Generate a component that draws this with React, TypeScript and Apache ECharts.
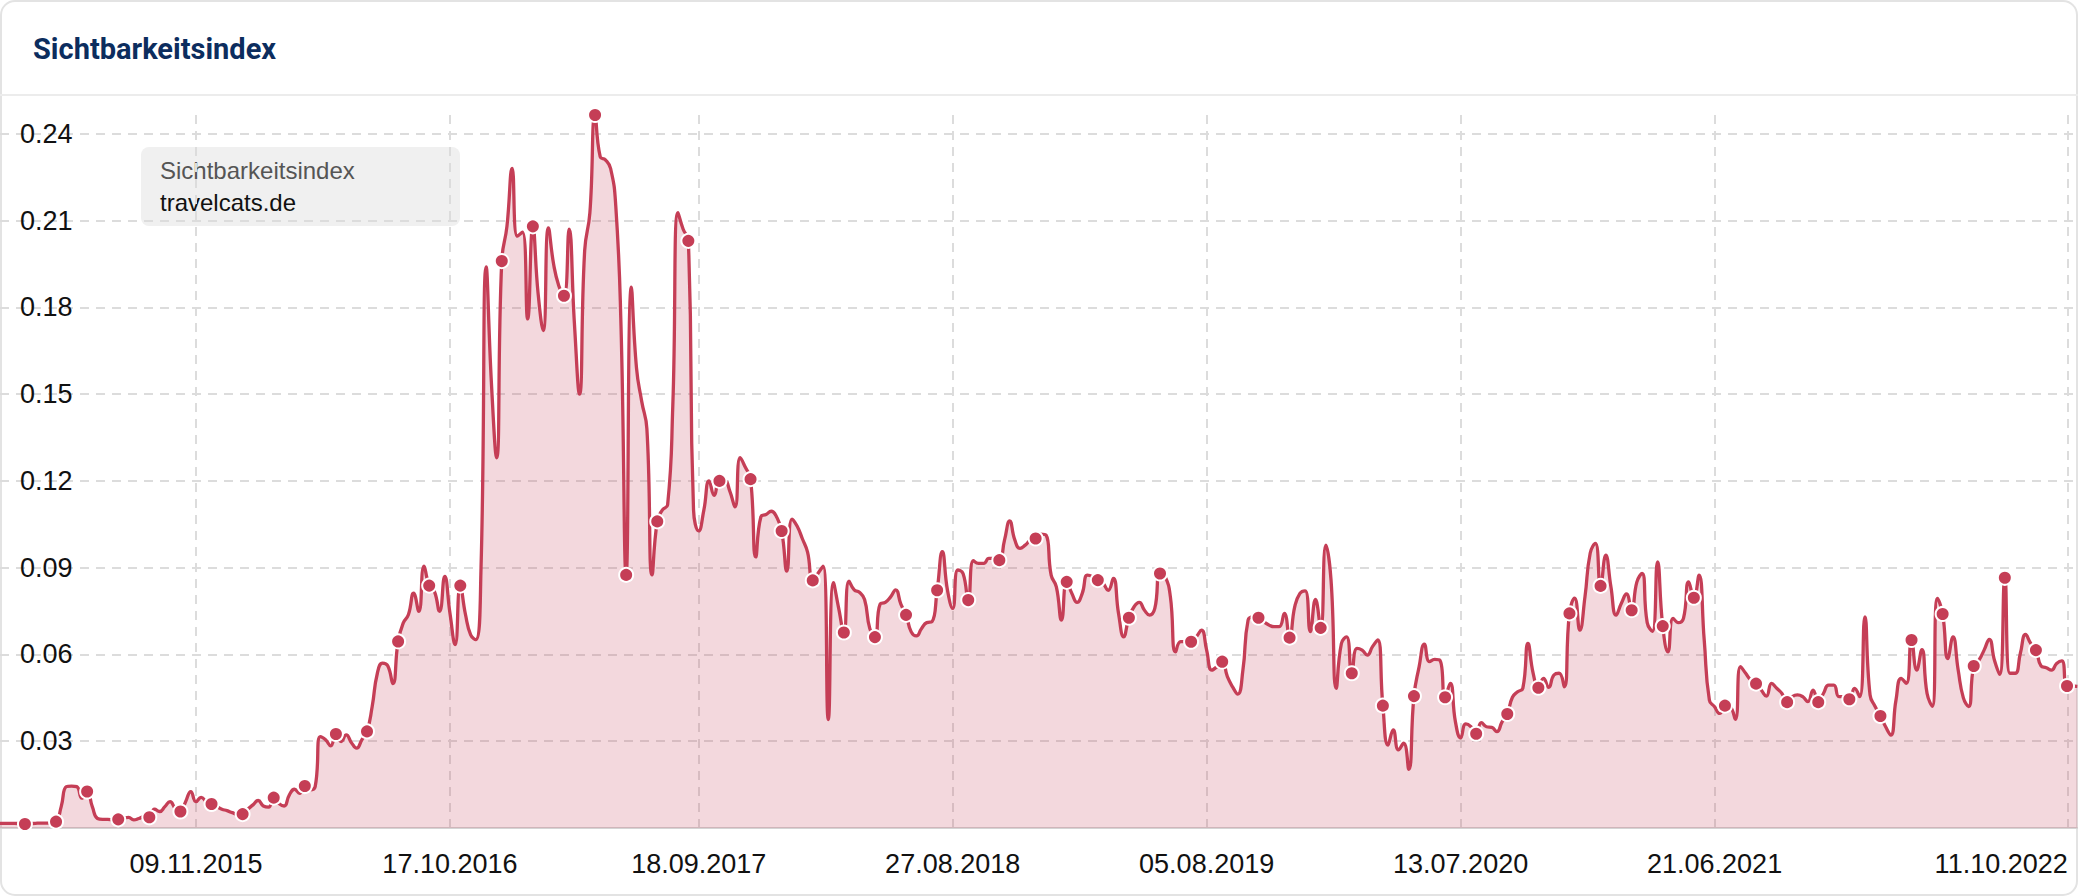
import React, { useEffect, useRef } from 'react';
import * as echarts from 'echarts';

// ---------- data ----------
const TITLE = 'Sichtbarkeitsindex';
const LEGEND_LABEL = 'Sichtbarkeitsindex';
const DOMAIN = 'travelcats.de';

// weekly values (Mondays), first week = 16.02.2015
const FIRST_WEEK = '2015-02-16';
const values: number[] = [
  0.0016, 0.0016, 0.0016, 0.0016, 0.0015, 0.0014, 0.0015, 0.0016, 0.0017, 0.0017,
  0.0018, 0.0022, 0.0074, 0.0143, 0.0145, 0.0143, 0.0103, 0.0126, 0.0074, 0.0033,
  0.003, 0.003, 0.0028, 0.003, 0.0033, 0.0037, 0.0028, 0.0033, 0.0039, 0.0037,
  0.0065, 0.0057, 0.0074, 0.0091, 0.0068, 0.0057, 0.0091, 0.0126, 0.0091, 0.0106,
  0.0091, 0.0083, 0.0074, 0.0065, 0.006, 0.0053, 0.0048, 0.0048, 0.0065, 0.008,
  0.0095, 0.0076, 0.0072, 0.0105, 0.0085, 0.0076, 0.0114, 0.0134, 0.012, 0.0145,
  0.0132, 0.0143, 0.0316, 0.0305, 0.0284, 0.0325, 0.0299, 0.0322, 0.0295, 0.0276,
  0.0305, 0.0334, 0.042, 0.0535, 0.057, 0.0561, 0.0499, 0.0645, 0.0709, 0.0738,
  0.0812, 0.0749, 0.0905, 0.0838, 0.0818, 0.0749, 0.087, 0.0743, 0.0634, 0.0838,
  0.0738, 0.0668, 0.0651, 0.09, 0.194, 0.154, 0.128, 0.196, 0.208, 0.228,
  0.2046, 0.206, 0.176, 0.208, 0.185, 0.172, 0.2075, 0.195, 0.1875, 0.184,
  0.207, 0.175, 0.15, 0.1997, 0.2127, 0.2465, 0.232, 0.231, 0.228, 0.215,
  0.174, 0.0875, 0.187, 0.159, 0.1475, 0.138, 0.0875, 0.106, 0.11, 0.1117,
  0.146, 0.2127, 0.207, 0.203, 0.11, 0.1027, 0.11, 0.12, 0.115, 0.12,
  0.12, 0.1165, 0.111, 0.128, 0.1247, 0.1206, 0.0937, 0.1076, 0.1084, 0.1095,
  0.1076, 0.1027, 0.0888, 0.1068, 0.1043, 0.1, 0.0954, 0.0856, 0.088, 0.0905,
  0.0375, 0.0848, 0.076, 0.0676, 0.0853, 0.0823, 0.0815, 0.079, 0.069, 0.066,
  0.0774, 0.078, 0.0798, 0.0823, 0.0774, 0.0737, 0.0678, 0.0664, 0.069, 0.071,
  0.0713, 0.0822, 0.0955, 0.0822, 0.0759, 0.0892, 0.088, 0.0788, 0.0924, 0.0915,
  0.0915, 0.0932, 0.0932, 0.0926, 0.0995, 0.1062, 0.0995, 0.0967, 0.0978, 0.0995,
  0.1001, 0.1016, 0.1013, 0.0874, 0.0834, 0.0719, 0.0851, 0.0811, 0.078, 0.0811,
  0.0874, 0.0869, 0.0857, 0.0846, 0.0822, 0.0863, 0.0742, 0.0661, 0.0727, 0.0765,
  0.078, 0.0753, 0.0736, 0.0759, 0.088, 0.0869, 0.08, 0.0609, 0.0644, 0.0644,
  0.0644, 0.0661, 0.0684, 0.0615, 0.0546, 0.0558, 0.0575, 0.0523, 0.0488, 0.0463,
  0.0546, 0.0719, 0.073, 0.0727, 0.0713, 0.0702, 0.0696, 0.0696, 0.0742, 0.0658,
  0.0765, 0.0811, 0.082, 0.0679, 0.079, 0.0692, 0.0978, 0.0857, 0.0483, 0.0638,
  0.0661, 0.0535, 0.0621, 0.0615, 0.0598, 0.0627, 0.065, 0.0423, 0.0287, 0.0339,
  0.027, 0.0293, 0.0203, 0.0456, 0.0558, 0.0636, 0.0575, 0.0583, 0.058, 0.0452,
  0.05, 0.0367, 0.0312, 0.036, 0.035, 0.0326, 0.0364, 0.035, 0.0348, 0.0333,
  0.0367, 0.0394, 0.0452, 0.0471, 0.0483, 0.0638, 0.0535, 0.0485, 0.0517, 0.0486,
  0.0529, 0.0535, 0.0488, 0.0742, 0.0795, 0.0684, 0.08, 0.095, 0.0984, 0.0837,
  0.0943, 0.0834, 0.0736, 0.0776, 0.0809, 0.0753, 0.085, 0.088, 0.071, 0.068,
  0.092, 0.0698, 0.0609, 0.0725, 0.071, 0.0725, 0.0851, 0.0796, 0.0874, 0.065,
  0.0442, 0.0419, 0.0396, 0.0423, 0.0419, 0.0376, 0.0558, 0.0535, 0.0511, 0.0499,
  0.0477, 0.0456, 0.05, 0.0483, 0.0465, 0.0435, 0.0454, 0.046, 0.0454, 0.0437,
  0.0477, 0.0435, 0.0465, 0.0494, 0.0494, 0.0454, 0.0454, 0.0445, 0.0483, 0.0454,
  0.073, 0.046, 0.0419, 0.0387, 0.035, 0.0321, 0.0442, 0.0517, 0.05, 0.065,
  0.0546, 0.0617, 0.0465, 0.0421, 0.0794, 0.074, 0.0586, 0.0661, 0.0546, 0.045,
  0.042, 0.056, 0.058, 0.0615, 0.0652, 0.058, 0.0531, 0.0865, 0.0535, 0.0535,
  0.0604, 0.0669, 0.0638, 0.0615, 0.056, 0.0554, 0.0546, 0.0569, 0.0578, 0.0491,
  0.0491, 0.049,
];

// indices (into values) of the points drawn with a marker
const markerIndex: number[] = [
  5, 11, 17, 23, 29, 35, 41, 47, 53, 59, 65, 71, 77, 83, 89, 97, 103, 109, 115, 121,
  127, 133, 139, 145, 151, 157, 163, 169, 175, 181, 187, 193, 200, 206, 212, 218, 224,
  230, 236, 243, 249, 255, 261, 267, 273, 279, 285, 291, 297, 303, 309, 315, 321, 327,
  333, 339, 345, 351, 357, 363, 369, 375, 381, 387, 393, 399,
];

const xTickLabels = [
  '09.11.2015', '17.10.2016', '18.09.2017', '27.08.2018',
  '05.08.2019', '13.07.2020', '21.06.2021', '11.10.2022',
];
const yTicks = [0.03, 0.06, 0.09, 0.12, 0.15, 0.18, 0.21, 0.24];

// ---------- style ----------
const LINE = '#c53e56';
const GRID_LINE = '#dcdcdc';
const LABEL_FONT = '"Liberation Sans", Arial, Helvetica, sans-serif';

const DAY = 24 * 3600 * 1000;
const parseIso = (s: string) => {
  const [y, m, d] = s.split('-').map(Number);
  return Date.UTC(y, m - 1, d);
};
const parseDe = (s: string) => {
  const [d, m, y] = s.split('.').map(Number);
  return Date.UTC(y, m - 1, d);
};
const pad = (n: number) => String(n).padStart(2, '0');
const fmtDe = (t: number) => {
  const d = new Date(t);
  return `${pad(d.getUTCDate())}.${pad(d.getUTCMonth() + 1)}.${d.getUTCFullYear()}`;
};

export default function App() {
  const ref = useRef<HTMLDivElement>(null);

  useEffect(() => {
    if (!ref.current) return;
    const chart = echarts.init(ref.current, undefined, { renderer: 'svg' });

    const start = parseIso(FIRST_WEEK);
    const markers = new Set(markerIndex);
    const seriesData = values.map((v, i) => ({
      value: [start + i * 7 * DAY, v],
      symbol: markers.has(i) ? 'circle' : 'none',
    }));
    const xTicks = xTickLabels.map(parseDe);
    const yMax = Math.max(...values);
    const xMin = Date.UTC(2015, 1, 17, 8);
    const xMax = Date.UTC(2022, 9, 24, 20);

    chart.setOption({
      animation: false,
      backgroundColor: '#fff',
      title: {
        text: TITLE,
        left: 33,
        top: 34,
        padding: 0,
        textStyle: {
          fontFamily: 'Roboto, sans-serif',
          fontWeight: 'bold',
          fontSize: 29,
          color: '#0c2d5e',
        },
      },
      graphic: [
        {
          type: 'rect',
          silent: true,
          z: -10,
          shape: { x: 1, y: 1, width: 2076, height: 894, r: 14 },
          style: { fill: 'none', stroke: '#e3e3e3', lineWidth: 2 },
        },
        {
          type: 'line',
          silent: true,
          shape: { x1: 0, y1: 95, x2: 2078, y2: 95 },
          style: { stroke: '#ececec', lineWidth: 2 },
        },
        {
          type: 'group',
          z: 100,
          children: [
            {
              type: 'rect',
              shape: { x: 141, y: 147, width: 319, height: 79, r: 8 },
              style: { fill: '#f0f0f0' },
            },
            {
              type: 'text',
              x: 160,
              y: 170,
              style: {
                text: LEGEND_LABEL,
                fill: '#555555',
                font: `24px ${LABEL_FONT}`,
                verticalAlign: 'middle',
              },
            },
            {
              type: 'text',
              x: 160,
              y: 202,
              style: {
                text: DOMAIN,
                fill: '#111111',
                font: `24px ${LABEL_FONT}`,
                verticalAlign: 'middle',
              },
            },
          ],
        },
      ],
      grid: { left: 0, right: 0, top: 115, bottom: 68, containLabel: false },
      xAxis: {
        type: 'value',
        min: xMin,
        max: xMax,
        axisLine: { show: true, lineStyle: { color: '#d4d4d4', width: 2 } },
        axisTick: { show: false, customValues: xTicks },
        axisLabel: {
          customValues: xTicks,
          formatter: (v: number) => fmtDe(v),
          fontFamily: LABEL_FONT,
          fontSize: 27,
          color: '#111',
          margin: 22,
          alignMaxLabel: 'right',
          hideOverlap: false,
        },
        splitLine: {
          show: true,
          lineStyle: { color: GRID_LINE, width: 2, type: [9, 7] },
        },
      },
      yAxis: {
        type: 'value',
        min: 0,
        max: yMax,
        axisLine: { show: false },
        axisTick: { show: false, customValues: yTicks },
        axisLabel: {
          inside: true,
          customValues: yTicks,
          margin: 20,
          formatter: (v: number) => v.toFixed(2),
          fontFamily: LABEL_FONT,
          fontSize: 27,
          color: '#111',
          verticalAlign: 'middle',
        },
        splitLine: {
          show: true,
          lineStyle: { color: GRID_LINE, width: 2, type: [9, 7] },
        },
      },
      series: [
        {
          type: 'line',
          name: DOMAIN,
          data: seriesData,
          smooth: 0.5,
          showSymbol: true,
          showAllSymbol: true,
          symbol: 'circle',
          symbolSize: 14,
          clip: true,
          lineStyle: { color: LINE, width: 3.3 },
          itemStyle: { color: LINE, borderColor: '#fff', borderWidth: 2 },
          areaStyle: { color: LINE, opacity: 0.2 },
          z: 3,
        },
      ],
    });

    return () => chart.dispose();
  }, []);

  return (
    <div
      ref={ref}
      style={{ position: 'fixed', left: 0, top: 0, width: 2078, height: 896, background: '#fff' }}
    />
  );
}
